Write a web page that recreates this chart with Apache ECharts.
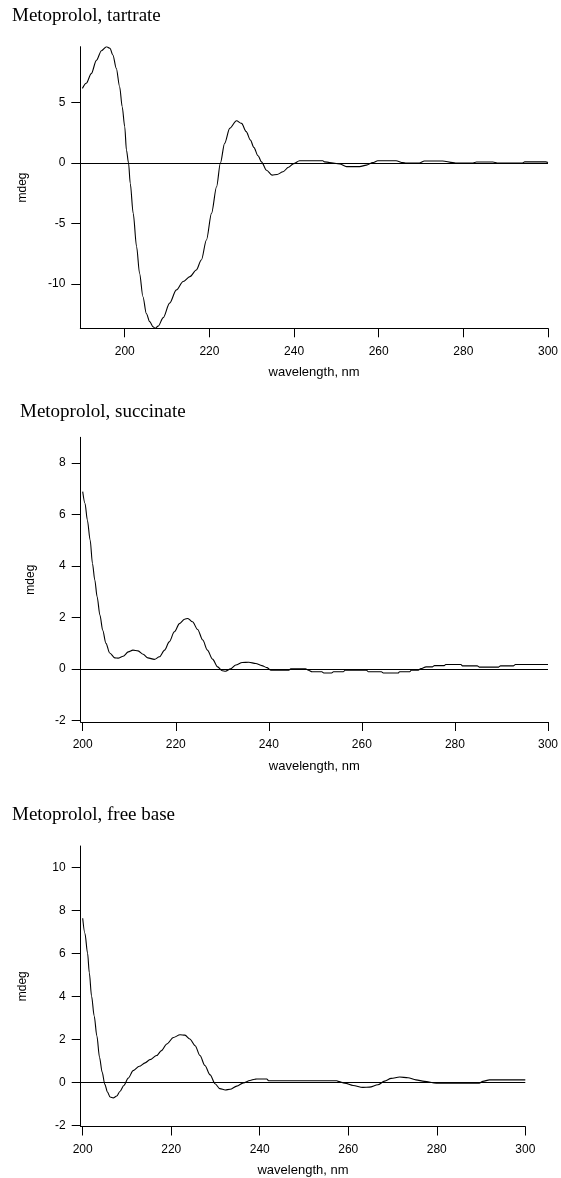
<!DOCTYPE html>
<html>
<head>
<meta charset="utf-8">
<script src="https://cdn.jsdelivr.net/npm/echarts@6/dist/echarts.min.js"></script>
<style>
html,body{margin:0;padding:0;background:#fff;}
#chart{width:561px;height:1178px;}
</style>
</head>
<body>
<div id="chart"></div>
<script>
// ---- Data ----
const titles = ["Metoprolol, tartrate", "Metoprolol, succinate", "Metoprolol, free base"];
const xName = "wavelength, nm";
const yName = "mdeg";
const xTicks = [200, 220, 240, 260, 280, 300];
const yTicks1 = [-10, -5, 0, 5];
const yTicks2 = [-2, 0, 2, 4, 6, 8];
const yTicks3 = [-2, 0, 2, 4, 6, 8, 10];

// Metoprolol, tartrate
const wl1 = [190,190.9,192.1,193.3,194.5,195.7,196.5,197.2,198,198.8,199.4,200,200.4,200.9,201.3,202,202.8,203.5,204.3,205.1,205.9,206.7,207.2,207.9,209.1,210.6,212.2,213.8,215.4,216.9,218.1,219.3,220.5,221.7,222.6,223.6,224.8,226.4,227.6,228.7,229.7,230.5,231.5,232.3,233.5,234.8,236,237.4,238.7,239.9,241.3,246.8,247.2,248.4,250.8,252.4,255.5,257.1,258.6,259.8,264.1,265.7,266.5,269.6,270.8,275.1,277.5,278.3,282.3,283.1,287,288,294,294.5,299.5,300];
const cd1 = [6.18,6.6,7.4,8.5,9.3,9.63,9.5,8.94,7.84,6.32,4.66,3.0,1.08,0,-1.68,-4.17,-6.93,-9.13,-11.07,-12.45,-13.13,-13.55,-13.68,-13.5,-12.8,-11.6,-10.5,-9.8,-9.4,-8.86,-8.03,-6.37,-4.17,-1.96,0,1.63,2.87,3.5,3.28,2.6,1.9,1.3,0.6,0.1,-0.6,-1.0,-0.95,-0.72,-0.35,-0.05,0.19,0.19,0.1,0.05,-0.08,-0.3,-0.3,-0.17,0.03,0.19,0.19,0.03,0,0,0.17,0.17,0.03,0,0,0.08,0.08,0,0,0.1,0.1,0.05];

// Metoprolol, succinate
const wl2 = [200,200.5,201,201.6,202.1,202.6,203.1,203.7,204.3,205,205.8,206.9,207.6,208.7,209.8,210.8,211.9,213,214,215.4,216.5,217.6,218.6,219.7,220.8,221.9,222.6,223.6,224.7,225.8,226.8,227.9,229,230,230.7,231.8,232.9,234.3,235.7,237.2,238.5,239.6,240.4,244.3,244.7,247.9,248.5,249.3,251.4,251.8,253.5,253.9,256,256.4,261,261.4,264.2,264.6,267.8,268.1,270.3,270.6,272,272.7,273.8,275.2,275.6,277.7,278,281.3,281.6,284.8,285.2,289.4,289.8,292.6,293,300];
const cd2 = [6.89,6.43,5.79,5.01,4.1,3.46,2.81,2.1,1.51,1.0,0.63,0.44,0.43,0.5,0.67,0.74,0.71,0.58,0.44,0.38,0.48,0.74,1.06,1.45,1.77,1.94,1.97,1.84,1.54,1.13,0.74,0.39,0.09,-0.06,-0.08,0.01,0.16,0.26,0.27,0.22,0.14,0.06,-0.04,-0.04,0.01,0.01,-0.04,-0.1,-0.1,-0.15,-0.15,-0.1,-0.1,-0.04,-0.04,-0.1,-0.1,-0.15,-0.15,-0.1,-0.1,-0.04,-0.04,0.02,0.09,0.09,0.14,0.14,0.18,0.18,0.13,0.13,0.08,0.08,0.13,0.13,0.18,0.18];

// Metoprolol, free base
const wl3 = [200,200.5,201.1,201.5,202,202.6,203.2,203.8,204.4,205,205.6,206.2,206.9,207.7,208.4,209.3,210.3,211.4,212.8,214.1,215.2,216.7,217.8,219,220.5,222,223.1,224.2,225.4,226.5,227.6,228.8,229.9,231,232.2,233.3,234.8,236.3,237.8,238.9,239.3,241.6,242,257.4,257.7,259.2,261.1,263.3,264.8,266.7,268.2,269.7,271.6,273.5,275.3,277.2,279.9,289.6,290.4,291.9,300];
const cd3 = [7.64,6.94,6.02,5.1,4.02,3.09,2.17,1.17,0.48,-0.09,-0.45,-0.68,-0.72,-0.63,-0.42,-0.14,0.2,0.55,0.75,0.91,1.06,1.25,1.48,1.79,2.09,2.22,2.2,2.02,1.71,1.25,0.79,0.35,-0.06,-0.29,-0.35,-0.32,-0.17,-0.02,0.09,0.15,0.16,0.16,0.08,0.08,0.05,-0.03,-0.14,-0.23,-0.22,-0.11,0.06,0.19,0.25,0.22,0.12,0.05,-0.03,-0.03,0.05,0.12,0.12];

// ---- Layout / styles ----
const SANS = "'Liberation Sans', Arial, sans-serif";
const SERIF = "'Liberation Serif', 'Times New Roman', serif";
const panels = [
  {grid:{left:80.3, top:46.7, width:468, height:281.6}, xMin:189.5, yMin:-13.68, yMax:9.63, yTicks:yTicks1, wl:wl1, cd:cd1, nameGapY:52, title:{left:12, top:6.5}},
  {grid:{left:80.7, top:437.3, width:470.3, height:284.7}, xMin:199.57, yMin:-2.05, yMax:9.0, yTicks:yTicks2, wl:wl2, cd:cd2, nameGapY:44, title:{left:20, top:403}},
  {grid:{left:80.7, top:846, width:444.6, height:282.3}, xMin:199.55, yMin:-2.05, yMax:11.0, yTicks:yTicks3, wl:wl3, cd:cd3, nameGapY:52.5, title:{left:12, top:806}}
];

const option = {
  animation: false,
  backgroundColor: '#fff',
  title: [], grid: [], xAxis: [], yAxis: [], series: []
};

panels.forEach((p, i) => {
  option.title.push({
    text: titles[i], left: p.title.left, top: p.title.top, padding: 0,
    textStyle: {fontFamily: SERIF, fontSize: 19, fontWeight: 'normal', color: '#000'}
  });
  option.grid.push(Object.assign({containLabel: false}, p.grid));
  option.xAxis.push({
    type: 'value', gridIndex: i, min: p.xMin, max: 300, position: 'bottom',
    axisLine: {onZero: false, lineStyle: {color: '#000', width: 1}},
    axisTick: {show: true, customValues: xTicks, length: 9, lineStyle: {color: '#000', width: 1}},
    axisLabel: {customValues: xTicks, margin: 17, color: '#000', fontSize: 12, fontFamily: SANS},
    splitLine: {show: false},
    name: xName, nameLocation: 'middle', nameGap: 37.5,
    nameTextStyle: {color: '#000', fontSize: 13, fontFamily: SANS}
  });
  option.yAxis.push({
    type: 'value', gridIndex: i, min: p.yMin, max: p.yMax, position: 'left',
    axisLine: {show: true, onZero: false, lineStyle: {color: '#000', width: 1}},
    axisTick: {show: true, customValues: p.yTicks, length: 9, lineStyle: {color: '#000', width: 1}},
    axisLabel: {customValues: p.yTicks, margin: 15, color: '#000', fontSize: 12, fontFamily: SANS},
    splitLine: {show: false},
    name: yName, nameLocation: 'middle', nameGap: p.nameGapY,
    nameTextStyle: {color: '#000', fontSize: 12, fontFamily: SANS}
  });
  option.series.push({
    type: 'line', xAxisIndex: i, yAxisIndex: i,
    data: p.wl.map((w, j) => [w, p.cd[j]]),
    showSymbol: false, symbol: 'none', smooth: 0.3, smoothMonotone: 'x',
    lineStyle: {color: '#000', width: 1.1},
    markLine: {
      silent: true, symbol: 'none', label: {show: false},
      lineStyle: {color: '#000', width: 1, type: 'solid'},
      data: [{yAxis: 0}]
    }
  });
});

const chart = echarts.init(document.getElementById('chart'), null, {renderer: 'canvas'});
chart.setOption(option);
</script>
</body>
</html>
